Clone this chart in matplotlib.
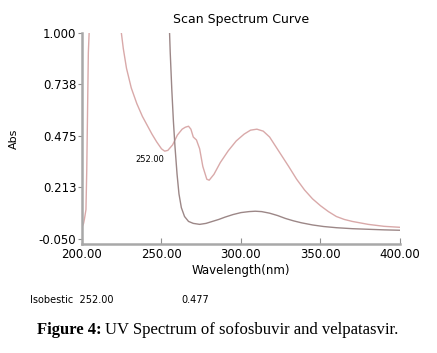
import matplotlib.pyplot as plt
import numpy as np

# sofosbuvir + velpatasvir spectrum (pink curve)
wl_a = [200, 201, 201.5, 202.5, 203, 203.5, 204, 204.5, 205,
        224, 226, 228, 231, 234.5, 238, 241, 244, 247, 250, 252, 254, 257, 260,
        263, 265, 267, 268.5, 270, 272, 274, 276, 278.5, 280, 283, 287, 292,
        297, 302, 306, 310, 314, 318, 322, 326, 330, 335, 340, 345, 350, 355,
        360, 365, 370, 380, 390, 400]
abs_a = [0.01, 0.03, 0.05, 0.1, 0.3, 0.6, 0.9, 1.0, 1.05,
         1.05, 0.92, 0.82, 0.72, 0.64, 0.575, 0.53, 0.485, 0.445, 0.41, 0.398, 0.402, 0.43, 0.48,
         0.51, 0.52, 0.525, 0.51, 0.47, 0.455, 0.41, 0.32, 0.255, 0.25, 0.28, 0.34, 0.40,
         0.45, 0.485, 0.505, 0.51, 0.50, 0.47, 0.42, 0.37, 0.32, 0.255, 0.20, 0.155, 0.12, 0.09,
         0.065, 0.05, 0.04, 0.025, 0.015, 0.01]

# second spectrum (grey-brown curve)
wl_b = [255.0, 255.5, 256.5, 257.5, 258.5, 259.8, 261, 262.5, 264.5, 267, 270, 274,
        278, 282, 286, 290, 295, 300, 305, 309, 313, 318, 323, 328, 333, 338,
        345, 352, 360, 370, 380, 390, 400]
abs_b = [1.02, 0.9, 0.71, 0.55, 0.42, 0.28, 0.18, 0.11, 0.065, 0.04, 0.03, 0.025,
         0.03, 0.04, 0.05, 0.062, 0.075, 0.085, 0.09, 0.092, 0.09, 0.082, 0.07, 0.055, 0.043, 0.033,
         0.022, 0.014, 0.008, 0.003, 0.0, -0.003, -0.005]

xticks = [200, 250, 300, 350, 400]
yticks = [-0.050, 0.213, 0.475, 0.738, 1.000]

fig = plt.figure(figsize=(4.37, 3.53), dpi=100)
ax = fig.add_axes([0.1876, 0.3088, 0.7277, 0.5977])

ax.plot(wl_a, abs_a, color='#d9a9a9', lw=1.0)
ax.plot(wl_b, abs_b, color='#9c8787', lw=1.0)

ax.set_xlim(200, 400)
ax.set_ylim(-0.075, 1.0)
ax.set_xticks(xticks)
ax.set_xticklabels([f'{t:.2f}' for t in xticks])
ax.set_yticks(yticks)
ax.set_yticklabels([f'{t:.3f}' for t in yticks])

for s in ['top', 'right']:
    ax.spines[s].set_visible(False)
for s in ['left', 'bottom']:
    ax.spines[s].set_color('#a8a8a8')
    ax.spines[s].set_linewidth(1.8)
ax.tick_params(axis='x', direction='in', length=4, color='#909090', labelsize=8.5, pad=3)
ax.tick_params(axis='y', direction='out', length=3, color='#909090', labelsize=8.5, pad=1)

ax.set_xlabel('Wavelength(nm)', fontsize=8.5, labelpad=2)
ax.set_ylabel('Abs', fontsize=8, labelpad=14)
ax.set_title('Scan Spectrum Curve', fontsize=9, pad=7)

ax.text(252, 0.355, '252.00', fontsize=6, ha='right', va='center')

fig.text(0.068, 0.15, 'Isobestic  252.00', fontsize=7, va='center')
fig.text(0.415, 0.15, '0.477', fontsize=7, va='center')

# caption: bold "Figure 4:" followed by regular text
bold = fig.text(0.085, 0.065, 'Figure 4:', fontsize=12, ha='left', va='center',
                family='Liberation Serif', weight='bold')
fig.canvas.draw()
bb = bold.get_window_extent().transformed(fig.transFigure.inverted())
fig.text(bb.x1 + 0.008, 0.065, 'UV Spectrum of sofosbuvir and velpatasvir.', fontsize=12,
         ha='left', va='center', family='Liberation Serif')

plt.savefig('out.png', dpi=100)
